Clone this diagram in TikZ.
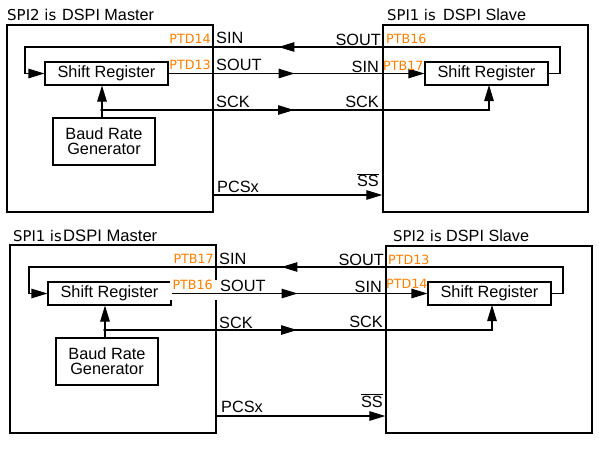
\documentclass[tikz,border=0pt]{standalone}
\usepackage{fontspec}
\setmainfont{Liberation Sans}
\newfontfamily\vfont{DejaVu Sans}
\usepackage{graphicx}
\usetikzlibrary{arrows.meta,decorations.markings,calc}
\definecolor{pinorange}{RGB}{255,128,0}
\tikzset{
  x=1pt, y=-1pt,
  tri/.tip={Triangle[length=16pt,width=9.5pt]},
  blk/.style={draw, line width=1.3pt, inner sep=0pt, minimum width=#1},
  srbox/.style={draw, line width=1.1pt, inner sep=0pt, minimum width=123pt, minimum height=23pt, font=\fontsize{16.3}{18}\selectfont},
  brgbox/.style={draw, line width=1.1pt, inner sep=0pt, minimum width=102pt, minimum height=47pt, align=center, font=\fontsize{16.3}{14.8}\selectfont},
  lbl/.style={inner sep=0pt, font=\fontsize{16.3}{18}\selectfont},
  pin/.style={inner sep=0pt, text=pinorange, font=\vfont\fontsize{12.7}{14}\selectfont},
  spi/.style={inner sep=0pt, font=\vfont\fontsize{#1}{16}\selectfont},
  ttl/.style={inner sep=0pt, font=\fontsize{#1}{18}\selectfont},
  wire/.style={line width=1.1pt},
  mid/.style={postaction={decorate}, decoration={markings, mark=at position #1 with {\arrow{tri}}}},
}
\begin{document}
\begin{tikzpicture}
\useasboundingbox[fill=white] (0,0) rectangle (599,450);

% ---------------- top diagram ----------------
\node[blk=206pt, minimum height=187pt] (m1box) at (110,118.5) {};
\node[blk=205pt, minimum height=187pt] (s1box) at (485.5,118.5) {};
\node[srbox] (m1sr) at (106.5,73.5) {Shift Register};
\node[srbox] (s1sr) at (486.5,73.5) {Shift Register};
\node[brgbox] (m1brg) at (104,141.5) {Baud Rate\\Generator};

\coordinate (j1) at (102,110);
\coordinate (c1a) at (560,47);
\coordinate (c1b) at (25,73.5);
\coordinate (sck1) at (489,85);
\coordinate (pcs1) at (213,195);

\draw[wire, mid=319.5pt, -tri] (s1sr.east) -| (c1a) -| (c1b) -- (m1sr.west);
\draw[wire, mid=126pt, -tri] (m1sr.east) -- (s1sr.west);
\draw[wire, mid=192pt, -tri] (j1) -| (sck1);
\draw[wire, -tri] (m1brg.north -| j1) -- (m1sr.south -| j1);
\fill (j1) circle (1.9pt);
\draw[wire, -tri] (pcs1) -- (pcs1 -| s1box.west);

\node[spi=15, anchor=base west] (t1a) at (7,20.5) {SPI2 is};
\node[ttl=16.2, anchor=base west] (t1b) at (62,20.5) {DSPI Master};
\node[spi=14.8, anchor=base west] (t1c) at (387,20.5) {SPI1 is};
\node[ttl=16.2, anchor=base west] (t1d) at (443,20.5) {DSPI Slave};

\node[pin, anchor=base east] (p1a) at (211,43.5) {PTD14};
\node[lbl, anchor=base west] (l1a) at (216,43.5) {SIN};
\node[pin, anchor=base east] (p1b) at (211,69.5) {PTD13};
\node[lbl, anchor=base west] (l1b) at (216,70) {SOUT};
\node[lbl, anchor=base west] (l1c) at (216,107) {SCK};
\node[lbl, anchor=base west] (l1d) at (217,192) {PCSx};
\node[lbl, anchor=base east] (l1e) at (381,45.5) {SOUT};
\node[pin, anchor=base west] (p1c) at (386,43.5) {PTB16};
\node[lbl, anchor=base east] (l1f) at (379,72) {SIN};
\node[pin, anchor=base west] (p1d) at (383,70) {PTB17};
\node[lbl, anchor=base east] (l1g) at (379,107) {SCK};
\node[lbl, anchor=base east] (l1h) at (379,186.5) {$\overline{\mbox{SS}}$};

% ---------------- bottom diagram ----------------
\node[blk=206pt, minimum height=188pt] (m2box) at (113,339) {};
\node[blk=206pt, minimum height=187pt] (s2box) at (489,339.5) {};
\node[srbox] (m2sr) at (109.5,293.5) {Shift Register};
\node[srbox] (s2sr) at (489.5,293.5) {Shift Register};
\node[brgbox] (m2brg) at (107,361.5) {Baud Rate\\Generator};

% white patch left by the label of the original
\fill[white] (169.5,279.5) rectangle (217.5,300);

\coordinate (j2) at (105,330);
\coordinate (c2a) at (563,267);
\coordinate (c2b) at (29,293.5);
\coordinate (sck2) at (492,305);
\coordinate (pcs2) at (216,416);

\draw[wire, mid=319.5pt, -tri] (s2sr.east) -| (c2a) -| (c2b) -- (m2sr.west);
\draw[wire, mid=126pt, -tri] (m2sr.east) -- (s2sr.west);
\draw[wire, mid=192pt, -tri] (j2) -| (sck2);
\draw[wire, -tri] (m2brg.north -| j2) -- (m2sr.south -| j2);
\fill (j2) circle (1.9pt);
\draw[wire, -tri] (pcs2) -- (pcs2 -| s2box.west);

\node[spi=14.8, anchor=base west] (t2a) at (13,241) {SPI1 is};
\node[ttl=16.6, anchor=base west] (t2b) at (63,241) {DSPI Master};
\node[spi=14.8, anchor=base west] (t2c) at (393,241) {SPI2 is};
\node[ttl=16.2, anchor=base west] (t2d) at (446,241) {DSPI Slave};

\node[pin, anchor=base east] (p2a) at (214,263) {PTB17};
\node[lbl, anchor=base west] (l2a) at (219,264) {SIN};
\node[pin, anchor=base east] (p2b) at (213,289) {PTB16};
\node[lbl, anchor=base west] (l2b) at (220,291) {SOUT};
\node[lbl, anchor=base west] (l2c) at (219,328) {SCK};
\node[lbl, anchor=base west] (l2d) at (221,412) {PCSx};
\node[lbl, anchor=base east] (l2e) at (384,265) {SOUT};
\node[pin, anchor=base west] (p2c) at (388,264) {PTD13};
\node[lbl, anchor=base east] (l2f) at (382,292) {SIN};
\node[pin, anchor=base west] (p2d) at (386,288) {PTD14};
\node[lbl, anchor=base east] (l2g) at (383,327) {SCK};
\node[lbl, anchor=base east] (l2h) at (383,407) {$\overline{\mbox{SS}}$};
\end{tikzpicture}
\end{document}
